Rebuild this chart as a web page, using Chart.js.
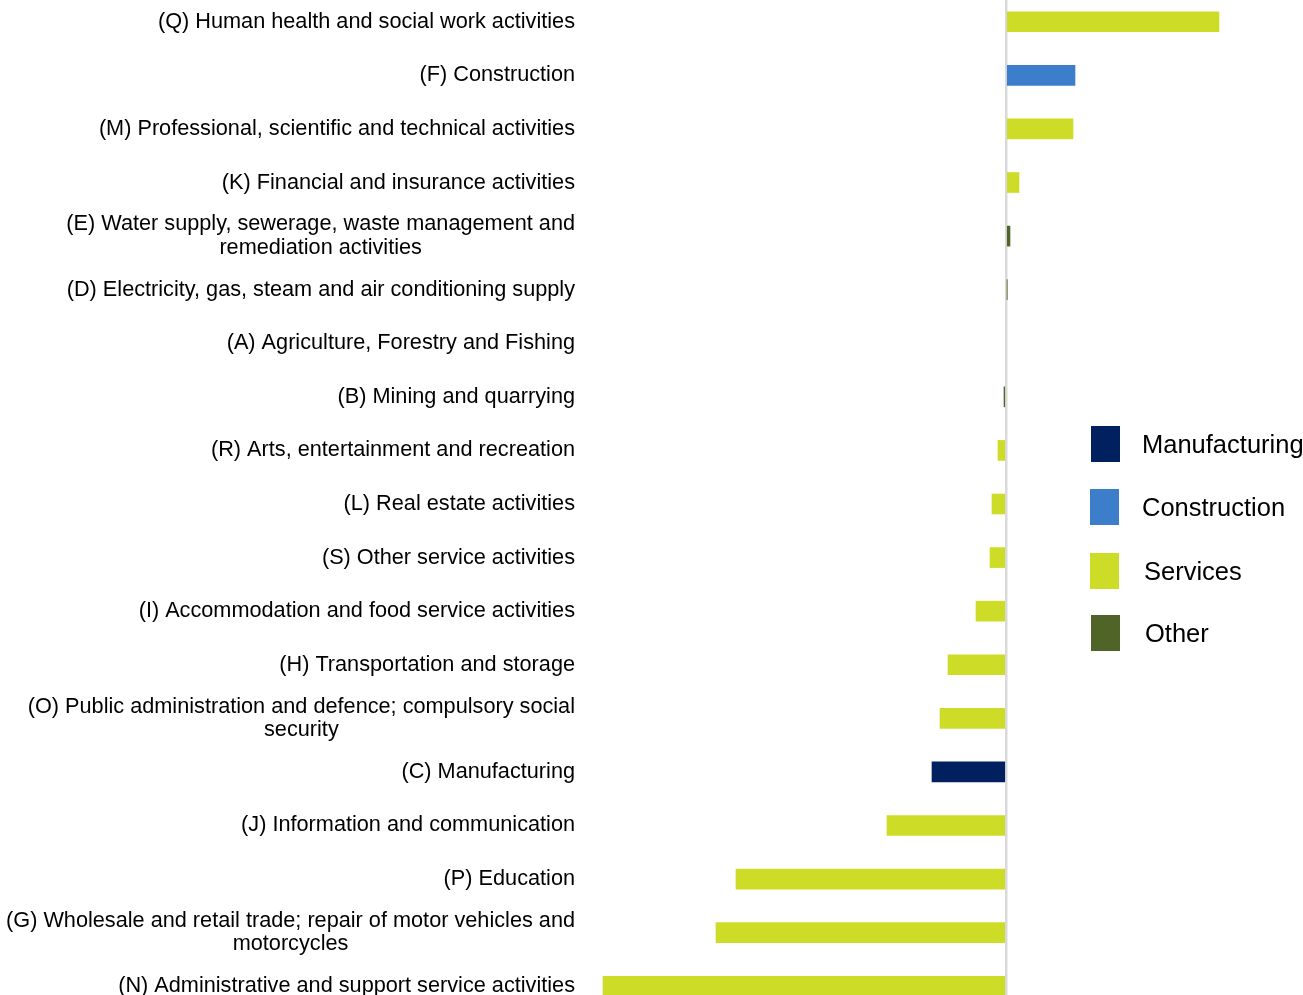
<!DOCTYPE html>
<html>
<head>
<meta charset="utf-8">
<script src="https://cdn.jsdelivr.net/npm/chart.js@4/dist/chart.umd.min.js"></script>
<style>
  html, body { margin: 0; padding: 0; background: #fff; overflow: hidden; width: 1303px; height: 995px; }
  #wrap { position: absolute; left: 0; top: -5px; width: 1303px; height: 1018px; }
  .legend { position: absolute; left: 1090px; font-family: Arial, "Liberation Sans", sans-serif; font-size: 25.5px; color: #000; }
  .legend div { position: absolute; white-space: nowrap; }
  .legend .box { width: 29px; height: 36px; }
</style>
</head>
<body>
<div id="wrap"><canvas id="chart"></canvas></div>
<div class="legend" id="legend"></div>
<script>
const categories = [
  '(Q) Human health and social work activities',
  '(F) Construction',
  '(M) Professional, scientific and technical activities',
  '(K) Financial and insurance activities',
  ['(E) Water supply, sewerage, waste management and', 'remediation activities'],
  '(D) Electricity, gas, steam and air conditioning supply',
  '(A) Agriculture, Forestry and Fishing',
  '(B) Mining and quarrying',
  '(R) Arts, entertainment and recreation',
  '(L) Real estate activities',
  '(S) Other service activities',
  '(I) Accommodation and food service activities',
  '(H) Transportation and storage',
  ['(O) Public administration and defence; compulsory social', 'security'],
  '(C) Manufacturing',
  '(J) Information and communication',
  '(P) Education',
  ['(G) Wholesale and retail trade; repair of motor vehicles and', 'motorcycles'],
  '(N) Administrative and support service activities'
];
const values = [213, 69, 67, 13, 4, 1, 0, -2, -8, -14, -16, -30, -58, -66, -74, -119, -270, -290, -403];
const sectors = ['Services', 'Construction', 'Services', 'Services', 'Other', 'Other', 'Other', 'Other',
  'Services', 'Services', 'Services', 'Services', 'Services', 'Services', 'Manufacturing',
  'Services', 'Services', 'Services', 'Services'];
const groupNames = ['Manufacturing', 'Construction', 'Services', 'Other'];
const groupColors = ['#002060', '#3d7ecb', '#cddc27', '#506428'];

const FONT = 'Arial, "Liberation Sans", sans-serif';

const datasets = groupNames.map((name, g) => ({
  label: name,
  data: values.map((v, i) => (sectors[i] === name && v !== 0 ? v : null)),
  backgroundColor: groupColors[g],
  borderWidth: 0,
  barThickness: 20
}));

// category labels: single lines right aligned, wrapped ones centred as a block
const labelPlugin = {
  id: 'catLabels',
  afterDraw(chart) {
    const { ctx, scales } = chart;
    const right = 575;
    ctx.save();
    ctx.font = '21.7px ' + FONT;
    ctx.fillStyle = '#000';
    ctx.textBaseline = 'middle';
    categories.forEach((label, i) => {
      const y = scales.y.getPixelForValue(i);
      if (Array.isArray(label)) {
        const w = Math.max(...label.map((l) => ctx.measureText(l).width));
        ctx.textAlign = 'center';
        const lh = 23.5;
        label.forEach((l, k) => ctx.fillText(l, right - w / 2, y + (k - (label.length - 1) / 2) * lh));
      } else {
        ctx.textAlign = 'right';
        ctx.fillText(label, right, y);
      }
    });
    ctx.restore();
  }
};

new Chart(document.getElementById('chart'), {
  type: 'bar',
  data: { labels: categories, datasets },
  options: {
    indexAxis: 'y',
    responsive: true,
    maintainAspectRatio: false,
    animation: false,
    layout: { padding: 0 },
    plugins: { legend: { display: false }, tooltip: { enabled: false } },
    scales: {
      y: {
        stacked: true,
        ticks: { display: false },
        grid: { display: false },
        border: { display: false },
        afterFit: (s) => { s.width = 590; }
      },
      x: {
        stacked: true,
        min: -416,
        max: 297,
        ticks: { display: false, stepSize: 100 },
        grid: {
          drawTicks: false,
          color: (c) => (c.tick && c.tick.value === 0 ? '#d9d9d9' : 'rgba(0,0,0,0)'),
          lineWidth: 2.5
        },
        border: { display: false },
        afterFit: (s) => { s.height = 0; }
      }
    }
  },
  plugins: [labelPlugin]
});

// legend
const legendTops = [426, 489, 553, 615];
const legendText = [1142, 1142, 1144, 1145];
const legend = document.getElementById('legend');
groupNames.forEach((name, g) => {
  const box = document.createElement('div');
  box.className = 'box';
  box.style.left = (g === 0 || g === 3 ? 1 : 0) + 'px';
  box.style.top = legendTops[g] + 'px';
  box.style.background = groupColors[g];
  legend.appendChild(box);
  const txt = document.createElement('div');
  txt.textContent = name;
  txt.style.left = (legendText[g] - 1090) + 'px';
  txt.style.top = (legendTops[g] + 18) + 'px';
  txt.style.transform = 'translateY(-50%)';
  legend.appendChild(txt);
});
</script>
</body>
</html>
